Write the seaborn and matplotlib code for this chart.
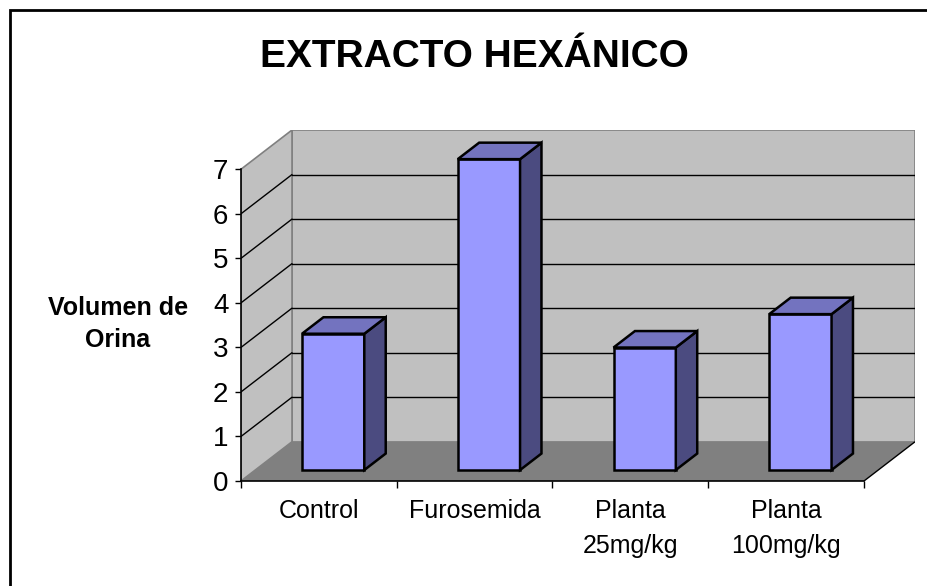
import numpy as np
import pandas as pd
import matplotlib
matplotlib.use("Agg")
import matplotlib.pyplot as plt
import seaborn as sns
from matplotlib.patches import Polygon, Rectangle

# ---- data ----
categories = ["Control", "Furosemida", "Planta\n25mg/kg", "Planta\n100mg/kg"]
volumen = [3.06, 6.98, 2.75, 3.50]
y_ticks = [0, 1, 2, 3, 4, 5, 6, 7]
title = "EXTRACTO HEXÁNICO"
y_label = "Volumen de\nOrina"

df = pd.DataFrame({"grupo": categories, "volumen": volumen})

sns.set_theme(style="white")
plt.rcParams["font.family"] = ["Liberation Sans", "DejaVu Sans"]

W, H = 928, 586
fig = plt.figure(figsize=(W / 100, H / 100), dpi=100)
fig.patch.set_facecolor("white")

# front plane of the plot box (pixel layout of the 3-D frame)
ax = fig.add_axes([241 / W, (H - 481) / H, (915 - 241) / W, (481 - 130) / H])

# oblique depth offset of the whole box, in data units
DX, DY = 0.3275, 0.881
YMAX = y_ticks[-1]
X0, X1 = -0.5, len(categories) - 0.5

# bar placement inside the depth
BAR_FRONT = 0.28    # fraction of depth where bar front face sits
BAR_DEPTH = 0.42    # fraction of depth occupied by the bar

FRONT = "#9999FF"
TOP = "#7373BF"
SIDE = "#4B4B80"
WALL = "#C0C0C0"
FLOOR = "#808080"
EDGE = "#808080"

# bars via seaborn (front faces)
sns.barplot(data=df, x="grupo", y="volumen", width=0.4, color=FRONT,
            saturation=1, edgecolor="black", linewidth=1.8, ax=ax, zorder=5)
bars = list(ax.patches)

# walls and floor
back = Polygon([(X0 + DX, DY), (X1 + DX, DY), (X1 + DX, YMAX + DY), (X0 + DX, YMAX + DY)],
               closed=True, facecolor=WALL, edgecolor=EDGE, linewidth=1.2, zorder=1)
left = Polygon([(X0, 0), (X0 + DX, DY), (X0 + DX, YMAX + DY), (X0, YMAX)],
               closed=True, facecolor=WALL, edgecolor=EDGE, linewidth=1.2, zorder=1)
floor = Polygon([(X0, 0), (X1, 0), (X1 + DX, DY), (X0 + DX, DY)],
                closed=True, facecolor=FLOOR, edgecolor="none", zorder=1.5)
for p in (back, left, floor):
    ax.add_patch(p)
ax.plot([X1, X1 + DX], [0, DY], color="black", lw=1, zorder=2, solid_capstyle="butt")

# gridlines on back and side walls
for k in y_ticks[1:-1]:
    ax.plot([X0 + DX, X1 + DX], [k + DY, k + DY], color="black", lw=1, zorder=2)
    ax.plot([X0, X0 + DX], [k, k + DY], color="black", lw=1, zorder=2)

# move the front faces into depth and add top and side faces
for bar in bars:
    x = bar.get_x() + BAR_FRONT * DX
    y = BAR_FRONT * DY
    w = bar.get_width()
    h = bar.get_height()
    bar.set_x(x)
    bar.set_y(y)
    ddx, ddy = BAR_DEPTH * DX, BAR_DEPTH * DY
    top = Polygon([(x, y + h), (x + w, y + h), (x + w + ddx, y + h + ddy), (x + ddx, y + h + ddy)],
                  closed=True, facecolor=TOP, edgecolor="black", linewidth=1.8, zorder=5,
                  joinstyle="miter")
    side = Polygon([(x + w, y), (x + w + ddx, y + ddy), (x + w + ddx, y + h + ddy), (x + w, y + h)],
                   closed=True, facecolor=SIDE, edgecolor="black", linewidth=1.8, zorder=5,
                   joinstyle="miter")
    ax.add_patch(side)
    ax.add_patch(top)

ax.set_xlim(X0, X1 + DX)
ax.set_ylim(0, YMAX + DY)
ax.patch.set_alpha(0)

# axes lines
for s in ("top", "right"):
    ax.spines[s].set_visible(False)
ax.spines["left"].set_bounds(0, YMAX)
ax.spines["bottom"].set_bounds(X0, X1)
for s in ("left", "bottom"):
    ax.spines[s].set_color("black")
    ax.spines[s].set_linewidth(1.2)
    ax.spines[s].set_zorder(6)

ax.set_yticks(y_ticks)
ax.set_yticklabels([str(v) for v in y_ticks])
ax.tick_params(axis="y", direction="out", length=4, width=1, color="black",
               labelsize=20, pad=5, left=True, labelcolor="black")

ax.set_xticks(np.arange(X0, X1 + 0.01, 1.0))
ax.set_xticklabels([])
ax.set_xticks(range(len(categories)), minor=True)
ax.set_xticklabels(categories, minor=True, fontsize=18, linespacing=1.6,
                   va="top", ha="center")
ax.tick_params(axis="x", which="major", direction="out", length=5, width=1,
               color="black", bottom=True)
ax.tick_params(axis="x", which="minor", length=0, pad=13, labelcolor="black")
ax.set_xlabel("")

ax.set_ylabel(y_label, rotation=0, fontsize=18, fontweight="bold",
              ha="center", va="center", linespacing=1.4, color="black")
ax.yaxis.set_label_coords((118 - 241) / (915 - 241), (481 - 324) / (481 - 130))

fig.text(474 / W, (H - 57) / H, title, ha="center", va="center",
         fontsize=28, fontweight="bold", color="black")

# chart area border
fig.add_artist(Rectangle((10 / W, -0.1), 1.2, (H - 10) / H + 0.1,
                         transform=fig.transFigure, fill=False,
                         edgecolor="black", linewidth=2, zorder=10))

fig.savefig("out.png", dpi=100)
